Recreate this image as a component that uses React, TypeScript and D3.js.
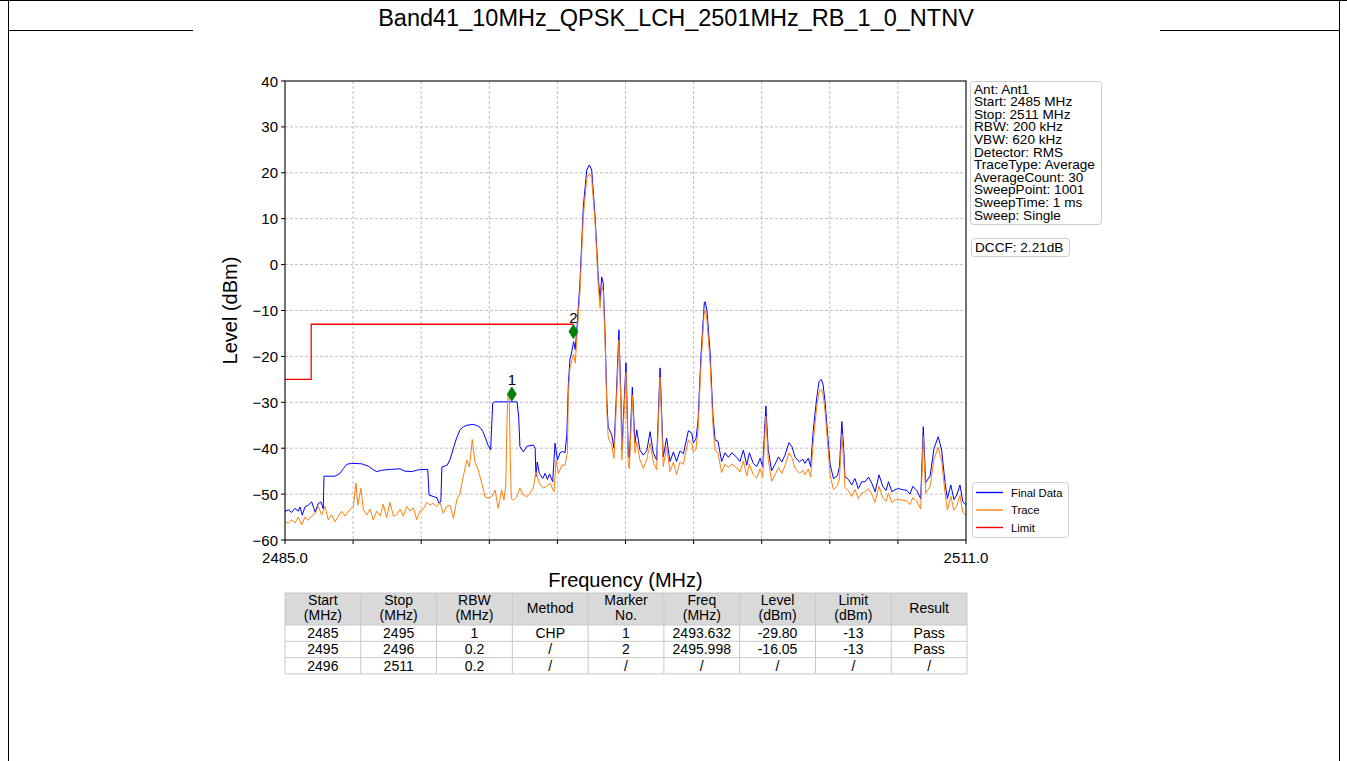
import React from "react";
import * as d3 from "d3";

const TITLE = "Band41_10MHz_QPSK_LCH_2501MHz_RB_1_0_NTNV";

const finalData: [number, number][] = [
  [2485.00,-53.8],[2485.13,-53.4],[2485.25,-54.0],[2485.38,-53.1],[2485.51,-53.7],[2485.57,-52.8],[2485.66,-54.6],[2485.76,-52.8],[2485.89,-52.4],[2486.02,-51.7],[2486.15,-53.9],[2486.27,-52.1],[2486.37,-51.7],[2486.46,-53.2],[2486.49,-46.1],[2486.91,-46.1],[2487.10,-45.5],[2487.23,-44.4],[2487.36,-43.5],[2487.55,-43.3],[2487.93,-43.4],[2488.18,-43.9],[2488.37,-44.7],[2488.50,-45.1],[2488.69,-44.8],[2489.07,-44.6],[2489.39,-44.5],[2489.58,-45.0],[2489.84,-45.1],[2490.09,-44.7],[2490.45,-44.6],[2490.50,-50.2],[2490.65,-50.5],[2490.80,-50.8],[2490.88,-52.0],[2490.95,-51.5],[2490.99,-44.1],[2491.19,-43.7],[2491.30,-42.5],[2491.41,-40.4],[2491.55,-37.8],[2491.68,-36.0],[2491.82,-35.3],[2491.95,-35.0],[2492.18,-34.8],[2492.35,-35.1],[2492.45,-35.5],[2492.55,-36.3],[2492.64,-37.6],[2492.75,-39.3],[2492.85,-40.4],[2492.93,-30.2],[2493.00,-29.9],[2493.86,-29.9],[2493.92,-33.0],[2493.97,-39.7],[2494.10,-40.8],[2494.23,-39.6],[2494.48,-39.3],[2494.55,-40.0],[2494.58,-46.2],[2494.63,-43.0],[2494.71,-45.5],[2494.84,-46.6],[2494.93,-45.5],[2495.02,-46.8],[2495.10,-45.6],[2495.22,-47.3],[2495.31,-38.9],[2495.40,-42.6],[2495.50,-41.0],[2495.60,-40.7],[2495.69,-41.0],[2495.76,-37.1],[2495.82,-25.9],[2495.88,-20.5],[2495.93,-19.5],[2495.98,-18.0],[2496.02,-16.8],[2496.08,-18.5],[2496.16,-12.7],[2496.26,-4.0],[2496.39,12.6],[2496.52,20.6],[2496.62,21.7],[2496.71,20.6],[2496.84,10.4],[2496.96,-2.7],[2497.03,-7.7],[2497.09,-2.7],[2497.15,-4.0],[2497.22,-15.0],[2497.29,-30.0],[2497.34,-35.4],[2497.38,-35.9],[2497.47,-37.0],[2497.56,-40.0],[2497.64,-30.0],[2497.75,-14.2],[2497.83,-30.0],[2497.86,-40.4],[2498.02,-21.4],[2498.11,-41.9],[2498.15,-42.1],[2498.26,-26.7],[2498.36,-38.9],[2498.43,-36.0],[2498.55,-40.4],[2498.68,-41.5],[2498.81,-40.6],[2498.94,-36.4],[2499.06,-41.0],[2499.19,-42.6],[2499.32,-22.5],[2499.44,-41.9],[2499.57,-37.8],[2499.70,-42.9],[2499.83,-40.8],[2499.95,-42.9],[2500.08,-40.6],[2500.21,-41.2],[2500.40,-36.2],[2500.53,-36.7],[2500.59,-38.8],[2500.69,-38.0],[2500.77,-34.0],[2500.88,-20.0],[2501.01,-8.2],[2501.04,-8.1],[2501.11,-10.0],[2501.23,-19.2],[2501.34,-33.0],[2501.42,-38.2],[2501.53,-38.5],[2501.67,-42.9],[2501.80,-41.0],[2501.93,-42.0],[2502.06,-41.0],[2502.25,-42.0],[2502.37,-42.9],[2502.50,-40.4],[2502.63,-43.7],[2502.73,-41.0],[2502.88,-43.3],[2503.01,-44.0],[2503.14,-42.2],[2503.24,-44.0],[2503.31,-36.0],[2503.36,-30.8],[2503.45,-40.4],[2503.58,-44.9],[2503.71,-43.5],[2503.84,-41.9],[2503.97,-43.0],[2504.09,-41.5],[2504.24,-38.8],[2504.35,-39.6],[2504.47,-41.9],[2504.64,-43.0],[2504.77,-42.4],[2504.85,-43.3],[2504.98,-42.2],[2505.07,-44.0],[2505.17,-36.0],[2505.30,-29.0],[2505.39,-25.5],[2505.47,-25.0],[2505.54,-26.0],[2505.62,-30.0],[2505.74,-38.5],[2505.81,-43.5],[2505.94,-46.6],[2506.09,-46.0],[2506.17,-44.0],[2506.26,-34.2],[2506.33,-40.0],[2506.38,-46.2],[2506.51,-46.8],[2506.64,-48.0],[2506.76,-46.6],[2506.89,-48.8],[2507.02,-47.3],[2507.15,-47.3],[2507.28,-46.3],[2507.40,-47.6],[2507.53,-49.5],[2507.68,-45.8],[2507.82,-48.3],[2507.95,-49.2],[2508.04,-47.3],[2508.17,-49.5],[2508.29,-49.0],[2508.42,-48.8],[2508.55,-49.0],[2508.74,-49.2],[2508.86,-50.0],[2508.97,-48.3],[2509.12,-49.2],[2509.27,-51.0],[2509.37,-35.3],[2509.46,-47.5],[2509.63,-46.0],[2509.78,-40.0],[2509.94,-37.5],[2510.07,-40.4],[2510.20,-47.5],[2510.29,-51.0],[2510.42,-48.0],[2510.54,-51.2],[2510.65,-50.2],[2510.77,-48.0],[2510.88,-51.7],[2511.00,-52.4]
];

const traceData: [number, number][] = [
  [2485.00,-56.0],[2485.13,-56.4],[2485.25,-55.6],[2485.38,-56.3],[2485.51,-55.0],[2485.64,-56.7],[2485.76,-55.0],[2485.89,-55.7],[2486.02,-54.8],[2486.15,-54.2],[2486.27,-52.7],[2486.40,-54.5],[2486.53,-52.7],[2486.65,-55.6],[2486.78,-54.5],[2486.91,-56.0],[2487.04,-54.8],[2487.16,-53.7],[2487.29,-54.8],[2487.48,-53.3],[2487.61,-52.7],[2487.71,-47.6],[2487.78,-52.4],[2487.90,-48.7],[2487.99,-53.3],[2488.12,-54.5],[2488.25,-53.3],[2488.37,-55.6],[2488.50,-53.7],[2488.63,-54.8],[2488.75,-52.2],[2488.88,-55.1],[2489.01,-51.8],[2489.14,-54.8],[2489.26,-54.5],[2489.39,-53.3],[2489.52,-54.8],[2489.65,-52.7],[2489.77,-53.7],[2489.90,-53.0],[2490.03,-55.6],[2490.15,-53.7],[2490.28,-53.3],[2490.41,-51.8],[2490.54,-52.4],[2490.66,-52.0],[2490.79,-52.7],[2490.92,-51.8],[2491.04,-54.2],[2491.17,-52.7],[2491.30,-52.4],[2491.43,-55.3],[2491.56,-51.2],[2491.68,-49.8],[2491.81,-46.1],[2491.94,-42.6],[2492.04,-44.1],[2492.15,-38.1],[2492.25,-43.0],[2492.38,-44.8],[2492.51,-47.6],[2492.64,-50.6],[2492.76,-50.9],[2492.89,-50.6],[2493.02,-49.1],[2493.14,-53.1],[2493.27,-49.1],[2493.36,-51.3],[2493.43,-48.0],[2493.47,-35.0],[2493.51,-28.3],[2493.56,-28.6],[2493.60,-42.0],[2493.64,-51.0],[2493.72,-51.3],[2493.85,-50.6],[2493.97,-48.7],[2494.10,-50.2],[2494.23,-50.6],[2494.35,-49.8],[2494.48,-48.7],[2494.58,-45.1],[2494.71,-47.6],[2494.86,-48.7],[2494.99,-48.3],[2495.12,-47.6],[2495.27,-49.5],[2495.35,-42.6],[2495.44,-45.5],[2495.57,-43.7],[2495.69,-43.7],[2495.78,-41.1],
  [2495.82,-28.0],[2495.88,-22.5],[2495.93,-21.5],[2495.98,-20.0],[2496.02,-19.5],[2496.08,-21.5],[2496.16,-14.5],[2496.26,-6.0],[2496.39,10.5],[2496.52,18.8],[2496.62,19.8],[2496.71,18.8],[2496.84,9.0],[2496.96,-4.5],[2497.03,-9.5],[2497.09,-4.5],[2497.15,-5.8],[2497.22,-17.0],[2497.29,-32.0],[2497.34,-37.5],[2497.38,-38.2],[2497.47,-39.2],[2497.56,-42.2],[2497.64,-32.0],[2497.75,-16.5],[2497.83,-32.0],[2497.86,-42.5],[2498.02,-23.5],[2498.11,-44.0],[2498.15,-44.4],[2498.26,-28.5],[2498.36,-41.0],[2498.43,-38.6],[2498.55,-42.5],[2498.68,-44.4],[2498.81,-42.5],[2498.94,-38.9],[2499.06,-43.0],[2499.19,-44.7],[2499.32,-24.5],[2499.44,-44.0],[2499.57,-39.7],[2499.70,-45.1],[2499.83,-43.0],[2499.95,-45.8],[2500.08,-43.0],[2500.21,-43.5],[2500.40,-38.2],[2500.53,-38.9],[2500.59,-40.8],[2500.69,-40.2],[2500.77,-36.0],[2500.88,-22.0],[2501.01,-10.0],[2501.04,-9.9],[2501.11,-12.0],[2501.23,-21.5],[2501.34,-35.0],[2501.42,-40.5],[2501.53,-41.0],[2501.67,-45.3],[2501.80,-43.5],[2501.93,-44.2],[2502.06,-43.5],[2502.25,-44.3],[2502.37,-45.2],[2502.50,-42.8],[2502.63,-46.0],[2502.73,-43.5],[2502.88,-45.8],[2503.01,-46.5],[2503.14,-44.5],[2503.24,-46.3],[2503.31,-38.5],[2503.36,-33.0],[2503.45,-42.5],[2503.58,-47.2],[2503.71,-45.8],[2503.84,-44.2],[2503.97,-45.5],[2504.09,-43.8],[2504.24,-41.0],[2504.35,-42.0],[2504.47,-44.3],[2504.64,-45.5],[2504.77,-44.8],[2504.85,-45.8],[2504.98,-44.5],[2505.07,-46.3],[2505.17,-38.5],[2505.30,-31.0],[2505.39,-27.8],[2505.47,-27.2],[2505.54,-28.2],[2505.62,-32.0],[2505.74,-40.5],[2505.81,-45.8],[2505.94,-49.0],[2506.09,-48.2],[2506.17,-46.5],[2506.26,-37.0],[2506.33,-42.5],[2506.38,-48.5],[2506.51,-49.3],[2506.64,-50.5],[2506.76,-49.0],[2506.89,-51.0],[2507.02,-49.8],[2507.15,-49.5],[2507.28,-48.8],[2507.40,-50.0],[2507.53,-51.8],[2507.68,-48.3],[2507.82,-50.8],[2507.95,-51.5],[2508.04,-49.8],[2508.17,-51.8],[2508.29,-51.3],[2508.42,-51.2],[2508.55,-51.3],[2508.74,-51.5],[2508.86,-52.3],[2508.97,-50.8],[2509.12,-51.5],[2509.27,-53.2],[2509.37,-37.5],[2509.46,-49.8],[2509.63,-48.3],[2509.78,-42.3],[2509.94,-39.8],[2510.07,-42.8],[2510.20,-49.8],[2510.29,-53.5],[2510.42,-50.5],[2510.54,-53.5],[2510.65,-52.5],[2510.77,-50.3],[2510.88,-54.0],[2511.00,-54.5]
];

const limitData: [number, number][] = [
  [2485.0, -25], [2486.0, -25], [2486.0, -13], [2496.0, -13]
];

const markerFreqs = [2493.66, 2496.01];
const markerLevels = [-28.2, -14.6];
const markerLabels = ["1", "2"];

const yTicks = [-60, -50, -40, -30, -20, -10, 0, 10, 20, 30, 40];
const xTicks = [2485.0, 2487.6, 2490.2, 2492.8, 2495.4, 2498.0, 2500.6, 2503.2, 2505.8, 2508.4, 2511.0];
const xTickLabels = ["2485.0", "", "", "", "", "", "", "", "", "", "2511.0"];

const infoLines = [
  "Ant: Ant1", "Start: 2485 MHz", "Stop: 2511 MHz", "RBW: 200 kHz", "VBW: 620 kHz",
  "Detector: RMS", "TraceType: Average", "AverageCount: 30", "SweepPoint: 1001",
  "SweepTime: 1 ms", "Sweep: Single"
];
const dccfText = "DCCF: 2.21dB";

const legendNames = ["Final Data", "Trace", "Limit"];
const legendColors = ["#0000ff", "#ff7f0e", "#ff0000"];

const tableHeaders = [
  ["Start", "(MHz)"], ["Stop", "(MHz)"], ["RBW", "(MHz)"], ["Method"], ["Marker", "No."],
  ["Freq", "(MHz)"], ["Level", "(dBm)"], ["Limit", "(dBm)"], ["Result"]
];
const tableRows = [
  ["2485", "2495", "1", "CHP", "1", "2493.632", "-29.80", "-13", "Pass"],
  ["2495", "2496", "0.2", "/", "2", "2495.998", "-16.05", "-13", "Pass"],
  ["2496", "2511", "0.2", "/", "/", "/", "/", "/", "/"]
];

const FONT = "'Liberation Sans', Arial, Helvetica, sans-serif";

export default function App() {
  const L = 285, R = 966, T = 81, B = 540;
  const x = d3.scaleLinear().domain([2485, 2511]).range([L, R]);
  const y = d3.scaleLinear().domain([-60, 40]).range([B, T]);
  const line = d3.line<[number, number]>().x(d => x(d[0])).y(d => y(d[1]));

  const colX = d3.scaleLinear().domain([0, 9]).range([285, 967]);
  const headTop = 593, headBot = 625, rowH = 16.3;

  return (
    <svg width={1347} height={761} style={{ position: "absolute", left: 0, top: 0, background: "#fff" }} fontFamily={FONT}>
      <rect x={0} y={0} width={1347} height={761} fill="#fff" />
      {/* page frame */}
      <line x1={0} x2={1347} y1={0.5} y2={0.5} stroke="#000" strokeWidth={1} />
      <line x1={8.5} x2={8.5} y1={0} y2={761} stroke="#000" strokeWidth={1} />
      <line x1={1339.5} x2={1339.5} y1={0} y2={761} stroke="#000" strokeWidth={1} />
      <line x1={8} x2={193} y1={30.5} y2={30.5} stroke="#000" strokeWidth={1} />
      <line x1={1160} x2={1340} y1={30.5} y2={30.5} stroke="#000" strokeWidth={1} />
      <text x={676} y={26} textAnchor="middle" fontSize={23.5} fill="#000">{TITLE}</text>

      <defs>
        <clipPath id="plotclip"><rect x={L} y={T} width={R - L} height={B - T} /></clipPath>
      </defs>

      {/* grid */}
      {yTicks.slice(1, -1).map(v => (
        <line key={"gy" + v} x1={L} x2={R} y1={y(v)} y2={y(v)} stroke="#b0b0b0" strokeWidth={0.8} strokeDasharray="3,2" />
      ))}
      {xTicks.slice(1, -1).map(v => (
        <line key={"gx" + v} x1={x(v)} x2={x(v)} y1={T} y2={B} stroke="#b0b0b0" strokeWidth={0.8} strokeDasharray="3,2" />
      ))}

      <g clipPath="url(#plotclip)">
        <path d={line(finalData) || ""} fill="none" stroke="#0000ff" strokeWidth={1} strokeLinejoin="round" />
        <path d={line(traceData) || ""} fill="none" stroke="#ff7f0e" strokeWidth={1} strokeLinejoin="round" />
        <path d={line(limitData) || ""} fill="none" stroke="#ff0000" strokeWidth={1.3} />
      </g>

      {markerFreqs.map((f, i) => {
        const cx = x(f), cy = y(markerLevels[i]);
        return (
          <g key={"m" + i}>
            <path d={`M${cx},${cy - 7}L${cx + 4.5},${cy}L${cx},${cy + 7}L${cx - 4.5},${cy}Z`} fill="#008000" stroke="#008000" strokeWidth={0.8} />
            <text x={cx} y={cy - 9} textAnchor="middle" fontSize={15} fill="#000">{markerLabels[i]}</text>
          </g>
        );
      })}

      {/* axes frame */}
      <rect x={L} y={T} width={R - L} height={B - T} fill="none" stroke="#000" strokeWidth={1.1} />
      {yTicks.map(v => (
        <g key={"yt" + v}>
          <line x1={L - 4} x2={L} y1={y(v)} y2={y(v)} stroke="#000" strokeWidth={1} />
          <text x={L - 7} y={y(v) + 5.5} textAnchor="end" fontSize={15} fill="#000">{v < 0 ? "\u2212" + Math.abs(v) : String(v)}</text>
        </g>
      ))}
      {xTicks.map((v, i) => (
        <g key={"xt" + i}>
          <line x1={x(v)} x2={x(v)} y1={B} y2={B + 4} stroke="#000" strokeWidth={1} />
          {xTickLabels[i] && <text x={x(v)} y={B + 23} textAnchor="middle" fontSize={15} fill="#000">{xTickLabels[i]}</text>}
        </g>
      ))}
      <text transform={`translate(237,${(T + B) / 2}) rotate(-90)`} textAnchor="middle" fontSize={20} fill="#000">Level (dBm)</text>
      <text x={(L + R) / 2} y={587} textAnchor="middle" fontSize={20} fill="#000">Frequency (MHz)</text>

      {/* info box */}
      <rect x={970.5} y={81.5} width={131} height={143} rx={3} fill="#fff" stroke="#cccccc" strokeWidth={1} />
      {infoLines.map((s, i) => (
        <text key={"info" + i} x={974} y={93.5 + i * 12.6} fontSize={13.6} fill="#000">{s}</text>
      ))}
      <rect x={971.5} y={238.5} width={98} height={18} rx={3} fill="#fff" stroke="#cccccc" strokeWidth={1} />
      <text x={975} y={252} fontSize={13.6} fill="#000">{dccfText}</text>

      {/* legend */}
      <rect x={972.5} y={482.5} width={96} height={55} rx={3} fill="#fff" stroke="#cccccc" strokeWidth={1} />
      {legendNames.map((n, i) => (
        <g key={"lg" + i}>
          <line x1={976} x2={1003} y1={492.5 + i * 17.5} y2={492.5 + i * 17.5} stroke={legendColors[i]} strokeWidth={1.4} />
          <text x={1011} y={496.5 + i * 17.5} fontSize={11.3} fill="#000">{n}</text>
        </g>
      ))}

      {/* table */}
      <rect x={colX(0)} y={headTop} width={colX(9) - colX(0)} height={headBot - headTop} fill="#d9d9d9" />
      {tableHeaders.map((h, c) => {
        const cx = (colX(c) + colX(c + 1)) / 2;
        return h.length === 2 ? (
          <g key={"th" + c}>
            <text x={cx} y={605} textAnchor="middle" fontSize={14} fill="#000">{h[0]}</text>
            <text x={cx} y={620} textAnchor="middle" fontSize={14} fill="#000">{h[1]}</text>
          </g>
        ) : (
          <text key={"th" + c} x={cx} y={613} textAnchor="middle" fontSize={14} fill="#000">{h[0]}</text>
        );
      })}
      {tableRows.map((row, r) => row.map((v, c) => (
        <text key={`td${r}-${c}`} x={(colX(c) + colX(c + 1)) / 2} y={headBot + r * rowH + 13} textAnchor="middle" fontSize={14} fill="#000">{v}</text>
      )))}
      {d3.range(0, 10).map(c => (
        <line key={"tv" + c} x1={colX(c)} x2={colX(c)} y1={headTop} y2={headBot + 3 * rowH} stroke="#c8c8c8" strokeWidth={1} />
      ))}
      {[headTop, headBot, headBot + rowH, headBot + 2 * rowH, headBot + 3 * rowH].map((yy, i) => (
        <line key={"th-l" + i} x1={colX(0)} x2={colX(9)} y1={yy} y2={yy} stroke="#c8c8c8" strokeWidth={1} />
      ))}
    </svg>
  );
}
